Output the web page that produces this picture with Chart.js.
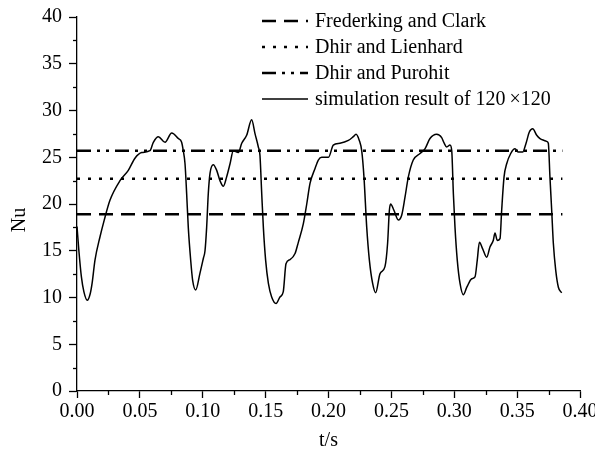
<!DOCTYPE html>
<html>
<head>
<meta charset="utf-8">
<script src="https://cdn.jsdelivr.net/npm/chart.js@4.4.1/dist/chart.umd.min.js"></script>
<style>
  html, body { margin: 0; padding: 0; background: #fff; }
  #wrap { width: 595px; height: 451px; position: relative; }
</style>
</head>
<body>
<div id="wrap"><canvas id="chart-nu"></canvas></div>
<script>
// Nu vs t — simulacion 120x120 frente a correlaciones
const FONT = "'Liberation Serif', 'Times New Roman', serif";

// Simulation curve
const simT = [
  0.0000, 0.0015, 0.0035, 0.0055, 0.0082, 0.0105, 0.0120, 0.0143, 0.0183, 0.0215,
  0.0262, 0.0342, 0.0408, 0.0461, 0.0514, 0.0580, 0.0607, 0.0647, 0.0700, 0.0753,
  0.0806, 0.0832, 0.0845, 0.0859, 0.0872, 0.0885, 0.0904, 0.0920, 0.0944, 0.0978,
  0.1005, 0.1018, 0.1031, 0.1044, 0.1058, 0.1084, 0.1111, 0.1137, 0.1164, 0.1190,
  0.1217, 0.1243, 0.1283, 0.1310, 0.1349, 0.1389, 0.1416, 0.1442, 0.1455, 0.1469,
  0.1482, 0.1500, 0.1522, 0.1548, 0.1583, 0.1614, 0.1640, 0.1662, 0.1694, 0.1734,
  0.1760, 0.1800, 0.1827, 0.1853, 0.1893, 0.1919, 0.1946, 0.2000, 0.2038, 0.2091,
  0.2158, 0.2197, 0.2219, 0.2245, 0.2264, 0.2282, 0.2304, 0.2325, 0.2351, 0.2375,
  0.2410, 0.2449, 0.2470, 0.2484, 0.2494, 0.2521, 0.2555, 0.2582, 0.2608, 0.2635,
  0.2674, 0.2728, 0.2767, 0.2807, 0.2860, 0.2900, 0.2920, 0.2940, 0.2966, 0.2980,
  0.2993, 0.3006, 0.3024, 0.3046, 0.3072, 0.3100, 0.3139, 0.3165, 0.3183, 0.3200,
  0.3226, 0.3258, 0.3284, 0.3310, 0.3324, 0.3342, 0.3364, 0.3377, 0.3396, 0.3417,
  0.3449, 0.3483, 0.3510, 0.3544, 0.3571, 0.3597, 0.3624, 0.3656, 0.3682, 0.3714,
  0.3735, 0.3748, 0.3761, 0.3775, 0.3788, 0.3807, 0.3828, 0.3854
];
const simNu = [
  17.6, 15.0, 12.2, 10.6, 9.7, 10.4, 11.5, 14.0, 16.5, 18.2,
  20.4, 22.5, 23.6, 24.9, 25.5, 25.7, 26.6, 27.2, 26.6, 27.6,
  27.0, 26.6, 25.7, 24.3, 21.1, 17.5, 14.0, 11.8, 10.8, 12.6,
  14.2, 15.0, 17.5, 21.1, 23.3, 24.2, 23.6, 22.5, 21.9, 22.9,
  24.3, 25.7, 25.5, 26.5, 27.35, 29.0, 27.5, 26.1, 25.2, 21.1,
  17.5, 14.0, 11.5, 10.05, 9.35, 10.05, 10.6, 13.6, 14.05, 14.7,
  15.9, 17.9, 20.0, 22.2, 23.8, 24.7, 25.0, 25.0, 26.3, 26.5,
  26.8, 27.2, 27.45, 26.8, 25.7, 22.9, 17.5, 14.0, 11.5, 10.5,
  12.55, 13.3, 15.8, 19.3, 20.0, 19.3, 18.3, 18.8, 20.7, 22.9,
  24.7, 25.4, 25.9, 27.0, 27.45, 27.1, 26.5, 26.1, 26.3, 25.7,
  21.1, 17.5, 14.0, 11.5, 10.3, 11.1, 12.0, 12.2, 14.0, 15.9,
  15.2, 14.3, 15.4, 16.1, 16.9, 16.1, 16.3, 19.3, 22.9, 24.3,
  25.4, 25.9, 25.55, 25.55, 26.5, 27.7, 28.05, 27.35, 27.0, 26.8,
  26.7, 26.5, 22.9, 19.3, 15.8, 12.9, 11.1, 10.5
];

// Correlations (constant values) and the t range they are drawn over
const refLabels = ['Frederking and Clark', 'Dhir and Lienhard', 'Dhir and Purohit'];
const refNu = [18.9, 22.7, 25.7];
const refRange = [0, 0.386];
const simLabel = 'simulation result of 120\u2009\u00d7120';

// Axes
const xTicks = [0, 0.05, 0.10, 0.15, 0.20, 0.25, 0.30, 0.35, 0.40];
const yTicks = [0, 5, 10, 15, 20, 25, 30, 35, 40];

const refDash = [[14, 8], [3, 8], [14, 6, 3, 6, 3, 6]];

const datasets = refLabels.map((lab, i) => ({
  label: lab,
  data: refRange.map(t => ({ x: t, y: refNu[i] })),
  borderColor: '#000',
  borderWidth: 2.5,
  borderDash: refDash[i],
  pointRadius: 0,
  fill: false,
}));
datasets.push({
  label: simLabel,
  data: simT.map((t, i) => ({ x: t, y: simNu[i] })),
  borderColor: '#000',
  borderWidth: 1.5,
  pointRadius: 0,
  cubicInterpolationMode: 'monotone',
  fill: false,
});

// minor ticks, legend and axis titles
const overlay = {
  id: 'overlay',
  afterDraw(chart) {
    const { ctx, scales: { x, y } } = chart;
    ctx.save();
    ctx.strokeStyle = '#000';
    ctx.lineWidth = 1.3;
    for (let i = 0; i < xTicks.length - 1; i++) {
      const px = Math.round(x.getPixelForValue((xTicks[i] + xTicks[i + 1]) / 2)) + 0.5;
      ctx.beginPath(); ctx.moveTo(px, y.bottom); ctx.lineTo(px, y.bottom + 4); ctx.stroke();
    }
    for (let i = 0; i < yTicks.length - 1; i++) {
      const py = Math.round(y.getPixelForValue((yTicks[i] + yTicks[i + 1]) / 2)) + 0.5;
      ctx.beginPath(); ctx.moveTo(x.left, py); ctx.lineTo(x.left - 4, py); ctx.stroke();
    }

    // legend
    ctx.font = `20px ${FONT}`;
    ctx.fillStyle = '#000';
    ctx.textBaseline = 'middle';
    ctx.textAlign = 'left';
    chart.data.datasets.forEach((ds, i) => {
      const ly = 21 + i * 26;
      ctx.lineWidth = ds.borderWidth;
      ctx.setLineDash(ds.borderDash || []);
      ctx.beginPath(); ctx.moveTo(262, ly); ctx.lineTo(308, ly); ctx.stroke();
      ctx.setLineDash([]);
      ctx.fillText(ds.label, 315, ly + 1);
    });

    // axis titles
    ctx.textAlign = 'center';
    ctx.fillText('t/s', (x.left + x.right) / 2, 441);
    ctx.translate(20, 220);
    ctx.rotate(-Math.PI / 2);
    ctx.fillText('Nu', 0, 0);
    ctx.restore();
  }
};

new Chart(document.getElementById('chart-nu'), {
  type: 'line',
  data: { datasets },
  options: {
    responsive: true, maintainAspectRatio: false,
    animation: false,
    layout: { padding: { left: 0, top: 17, right: 15, bottom: 0 } },
    plugins: { legend: { display: false }, tooltip: { enabled: false } },
    scales: {
      x: {
        type: 'linear', min: 0, max: 0.4,
        afterBuildTicks: s => { s.ticks = xTicks.map(v => ({ value: v })); },
        afterFit: s => { s.height = 60; s.paddingLeft = 0; s.paddingRight = 0; },
        ticks: { color: '#000', font: { family: FONT, size: 20 }, padding: 2, maxRotation: 0,
          callback: v => v.toFixed(2) },
        grid: { drawOnChartArea: false, drawTicks: true, tickLength: 7, tickColor: '#000', tickWidth: 1.3 },
        border: { display: true, color: '#000', width: 1.3 },
      },
      y: {
        min: 0, max: 40,
        afterBuildTicks: s => { s.ticks = yTicks.map(v => ({ value: v })); },
        afterFit: s => { s.width = 77; s.paddingTop = 0; s.paddingBottom = 0; },
        ticks: { color: '#000', font: { family: FONT, size: 20 }, padding: 7 },
        grid: { drawOnChartArea: false, drawTicks: true, tickLength: 8, tickColor: '#000', tickWidth: 1.3 },
        border: { display: true, color: '#000', width: 1.3 },
      }
    }
  },
  plugins: [overlay]
});
</script>
</body>
</html>
